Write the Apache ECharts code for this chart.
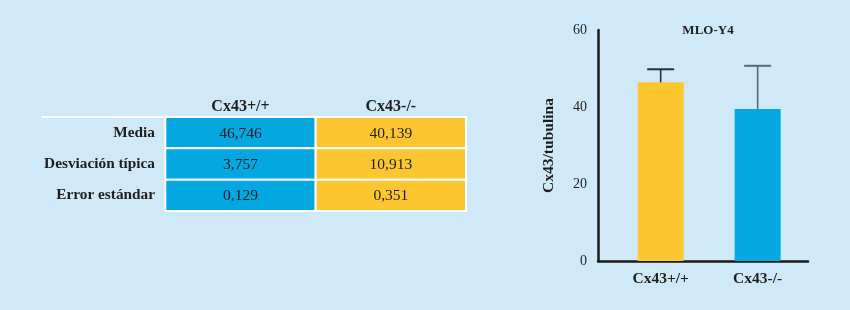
<!DOCTYPE html>
<html>
<head>
<meta charset="utf-8">
<script src="https://cdn.jsdelivr.net/npm/echarts@6/dist/echarts.min.js"></script>
<style>
html,body{margin:0;padding:0;background:#cfe9f8;}
#main{width:850px;height:310px;}
</style>
</head>
<body>
<div id="main"></div>
<script>
// ---- data ----
var tableHeaders = ['Cx43+/+', 'Cx43-/-'];
var tableRows = ['Media', 'Desviación típica', 'Error estándar'];
var colPlus = ['46,746', '3,757', '0,129'];
var colMinus = ['40,139', '10,913', '0,351'];

var chartTitle = 'MLO-Y4';
var categories = ['Cx43+/+', 'Cx43-/-'];
var means = [46.4, 39.5];
var upper = [49.8, 50.7];
var yTicks = [0, 20, 40, 60];

// ---- styles ----
var BG = '#cfe9f8';
var BLUE = '#05a7e0';
var YELLOW = '#fcc630';
var tableColColors = [BLUE, YELLOW];
var barColors = [YELLOW, BLUE];
var errColors = ['#26323a', '#5b6a72'];
var FONT = '"Liberation Serif", "DejaVu Serif", serif';
var TXT = '#1e1e1e';

var cellData = [];
tableRows.forEach(function (r, i) {
  cellData.push([0.5, i, colPlus[i], 0]);
  cellData.push([1.5, i, colMinus[i], 1]);
});

var barData = means.map(function (m, i) {
  return { value: [i + 1, m], itemStyle: { color: barColors[i] } };
});
var errData = means.map(function (m, i) { return [i + 1, m, upper[i], i]; });

var chart = echarts.init(document.getElementById('main'), null, { renderer: 'canvas' });
chart.setOption({
  backgroundColor: BG,
  animation: false,
  title: {
    text: chartTitle,
    left: 703, top: 19, textAlign: 'center',
    textStyle: { fontFamily: FONT, fontWeight: 'bold', fontSize: 13, color: TXT }
  },
  grid: [
    { left: 42, right: 850 - 466, top: 117, height: 94 },
    { left: 598, right: 42, top: 30, bottom: 49 }
  ],
  xAxis: [
    {
      gridIndex: 0, type: 'value', position: 'top', min: -0.82, max: 2,
      axisLine: { show: true, lineStyle: { color: '#ffffff', width: 2 } },
      axisTick: { show: false }, splitLine: { show: false },
      axisLabel: {
        customValues: [0.5, 1.5], margin: 2,
        formatter: function (v) { return tableHeaders[Math.round(v - 0.5)]; },
        fontFamily: FONT, fontWeight: 'bold', fontSize: 16, color: TXT
      }
    },
    {
      gridIndex: 1, type: 'value', min: 0.354, max: 2.519,
      axisLine: { show: true, lineStyle: { color: '#1a1a1a', width: 2.5 } },
      axisTick: { show: false }, splitLine: { show: false },
      axisLabel: {
        customValues: [1, 2], margin: 10,
        formatter: function (v) { return categories[Math.round(v) - 1]; },
        fontFamily: FONT, fontWeight: 'bold', fontSize: 15.5, color: TXT
      }
    }
  ],
  yAxis: [
    {
      gridIndex: 0, type: 'category', inverse: true, data: tableRows,
      offset: -123,
      axisLine: { show: false }, axisTick: { show: false }, splitLine: { show: false },
      axisLabel: { margin: 10, fontFamily: FONT, fontWeight: 'bold', fontSize: 15.3, color: TXT }
    },
    {
      gridIndex: 1, type: 'value', min: 0, max: 60, interval: 20,
      name: 'Cx43/tubulina', nameLocation: 'middle', nameGap: 41,
      nameTextStyle: { fontFamily: FONT, fontWeight: 'bold', fontSize: 15.5, color: TXT },
      axisLine: { show: true, lineStyle: { color: '#1a1a1a', width: 2.5 } },
      axisTick: { show: false }, splitLine: { show: false },
      axisLabel: { margin: 11, fontFamily: FONT, fontSize: 14, color: TXT }
    }
  ],
  series: [
    {
      type: 'custom', xAxisIndex: 0, yAxisIndex: 0,
      data: cellData,
      renderItem: function (params, api) {
        var cx = api.value(0), row = api.value(1), col = api.value(3);
        var p0 = api.coord([cx - 0.5, row]);
        var p1 = api.coord([cx + 0.5, row]);
        var h = api.size([0, 1])[1];
        var x0 = p0[0], x1 = p1[0];
        var y0 = p0[1] - h / 2;
        return {
          type: 'group',
          children: [
            {
              type: 'rect',
              shape: { x: x0, y: y0, width: x1 - x0, height: h },
              style: { fill: tableColColors[col], stroke: '#ffffff', lineWidth: 2 }
            },
            {
              type: 'text',
              style: {
                x: (x0 + x1) / 2, y: p0[1] + 1,
                text: api.value(2),
                align: 'center', verticalAlign: 'middle',
                font: '15.5px ' + FONT, fill: TXT
              }
            }
          ]
        };
      }
    },
    {
      type: 'bar', xAxisIndex: 1, yAxisIndex: 1,
      barWidth: 46,
      data: barData
    },
    {
      type: 'custom', xAxisIndex: 1, yAxisIndex: 1,
      data: errData,
      z: 5,
      renderItem: function (params, api) {
        var x = api.value(0);
        var pLow = api.coord([x, api.value(1)]);
        var pHigh = api.coord([x, api.value(2)]);
        var c = errColors[api.value(3)];
        var capHalf = 13.5;
        return {
          type: 'group',
          children: [
            { type: 'line', shape: { x1: pLow[0], y1: pLow[1], x2: pHigh[0], y2: pHigh[1] },
              style: { stroke: c, lineWidth: 1.6 } },
            { type: 'line', shape: { x1: pHigh[0] - capHalf, y1: pHigh[1], x2: pHigh[0] + capHalf, y2: pHigh[1] },
              style: { stroke: c, lineWidth: 2 } }
          ]
        };
      }
    }
  ]
});
</script>
</body>
</html>
